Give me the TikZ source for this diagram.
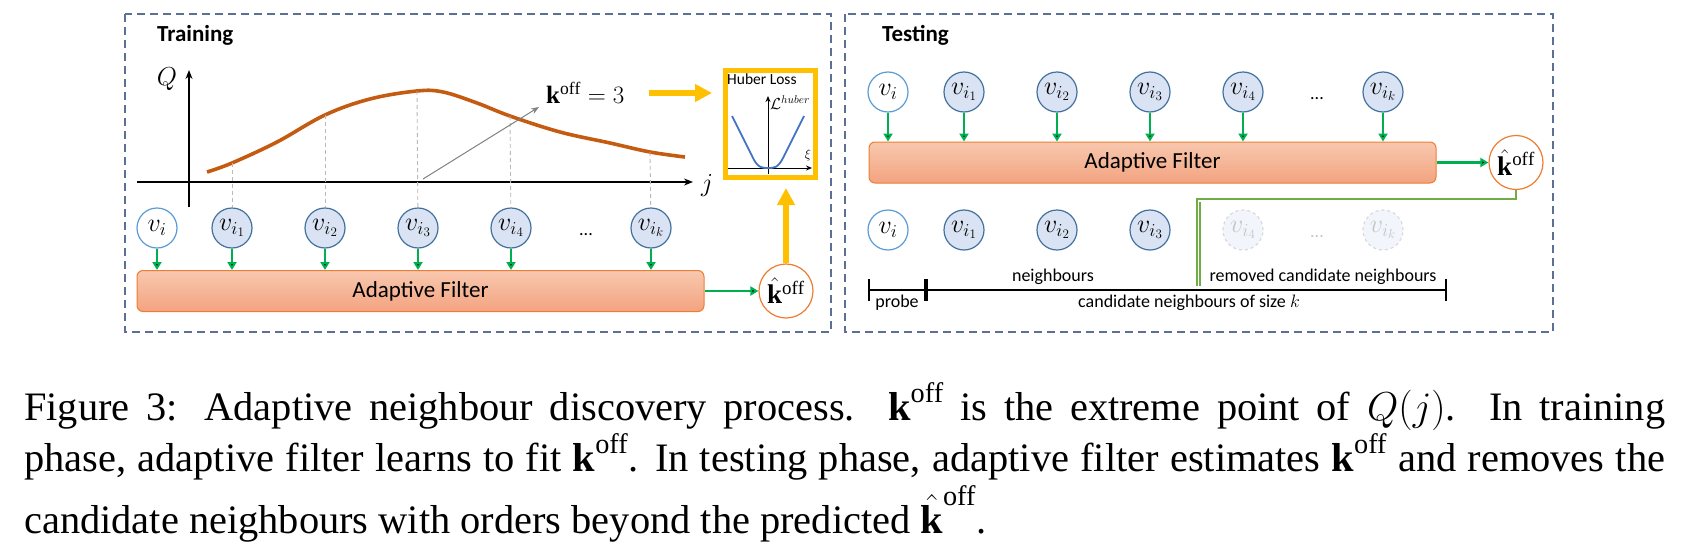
\RequirePackage{fix-cm}
\documentclass[tikz,border=0pt]{standalone}
\usepackage{amsmath}
\usepackage{fontspec}
\setmainfont{Liberation Serif}
\newfontfamily\calib{Carlito}
\usetikzlibrary{arrows.meta,positioning}

\definecolor{boxblue}{RGB}{92,112,150}
\definecolor{nodeblue}{RGB}{65,113,156}
\definecolor{probeblue}{RGB}{91,155,213}
\definecolor{nodefill}{RGB}{218,227,243}
\definecolor{filterline}{RGB}{237,125,49}
\definecolor{filtertop}{RGB}{248,200,175}
\definecolor{filterbot}{RGB}{243,163,128}
\definecolor{feedgreen}{RGB}{0,176,80}
\definecolor{linkgreen}{RGB}{112,173,71}
\definecolor{curveorange}{RGB}{197,90,17}
\definecolor{gold}{RGB}{255,192,0}
\definecolor{hubblue}{RGB}{68,114,196}

\tikzset{
  phase/.style={draw=boxblue, line width=1.4pt, dash pattern=on 8pt off 5pt},
  phasetitle/.style={anchor=west, inner sep=0pt, font=\calib\bfseries\fontsize{23}{23}\selectfont},
  cand/.style={circle, draw=nodeblue, fill=nodefill, line width=1.2pt, minimum size=40pt, inner sep=0pt, font=\fontsize{26}{26}\selectfont},
  probe/.style={cand, draw=probeblue, fill=white},
  removed/.style={cand, draw=gray!30, dashed, fill=nodefill!35, text=gray!45},
  ellip/.style={inner sep=0pt, font=\calib\fontsize{18}{18}\selectfont},
  filterbox/.style={draw=filterline, line width=1pt, rounded corners=6pt, top color=filtertop, bottom color=filterbot, minimum width=567pt, minimum height=41pt, font=\calib\fontsize{23}{23}\selectfont},
  koff/.style={circle, draw=filterline, fill=white, line width=1.2pt, minimum size=54pt, inner sep=0pt, font=\fontsize{27}{27}\selectfont},
  feed/.style={draw=feedgreen, line width=2.6pt, -{Triangle[length=8pt,width=9pt]}},
  big/.style={draw=gold, line width=6pt, -{Triangle[length=17pt,width=17pt]}},
  link/.style={draw=linkgreen, line width=1.4pt},
  guide/.style={draw=gray!55, line width=0.9pt, dash pattern=on 4pt off 3pt},
  qaxis/.style={line width=1.3pt, -{Stealth[length=9pt,width=7pt]}},
  qcurve/.style={draw=curveorange, line width=3.6pt},
  mathlbl/.style={inner sep=0pt, font=\fontsize{26}{26}\selectfont},
  brlabel/.style={inner sep=0pt, font=\calib\fontsize{18}{18}\selectfont},
  sizebar/.style={line width=1.6pt, {Bar[width=22pt]}-{Bar[width=22pt]}},
  captionline/.style={anchor=base west, inner sep=0pt, font=\fontsize{40.4}{51}\selectfont},
}

\begin{document}
\begin{tikzpicture}[x=1pt, y=-1pt, node distance=93pt]
  \useasboundingbox (0,0) rectangle (1697,546);

  % training phase
  \draw[phase] (125,14) rectangle (831,332);
  \node[phasetitle] (train) at (157,35) {Training};

  \draw[qaxis] (189,207) -- (189,70);
  \draw[qaxis] (137,182) -- (693,182);
  \node[mathlbl] (q) at (167,79) {$Q$};
  \node[mathlbl] (j) at (707,186) {$j$};

  \coordinate (c1) at (232,163);
  \coordinate (c2) at (325,115);
  \coordinate (c3) at (417,91);
  \coordinate (c4) at (510,116);
  \coordinate (ck) at (650,152);
  \draw[qcurve] plot[smooth, tension=0.6] coordinates {(207,172) (c1) (277,142) (c2) (370,99) (c3) (443,92) (477,103) (c4) (560,132) (610,143) (ck) (685,157)};

  \node[probe] (vi) at (157,228) {$v_i$};
  \node[cand, right of=vi, node distance=75pt] (vi1) {$v_{i_1}$};
  \node[cand, right of=vi1] (vi2) {$v_{i_2}$};
  \node[cand, right of=vi2] (vi3) {$v_{i_3}$};
  \node[cand, right of=vi3] (vi4) {$v_{i_4}$};
  \node[ellip, right of=vi4, node distance=75pt, yshift=-7pt] (vdots) {...};
  \node[cand, right of=vi4, node distance=140pt] (vik) {$v_{i_k}$};

  \draw[guide] (c1) -- (vi1);
  \draw[guide] (c2) -- (vi2);
  \draw[guide] (c3) -- (vi3);
  \draw[guide] (c4) -- (vi4);
  \draw[guide] (ck) -- (vik);

  \node[mathlbl, anchor=west, font=\fontsize{25}{25}\selectfont] (kl) at (546,93) {$\mathbf{k}^{\mathrm{off}} = 3$};
  \coordinate (ptr) at (423,179);
  \coordinate (ptrend) at (539,107);
  \draw[gray, line width=1pt, -{Stealth[length=8pt,width=6pt]}] (ptr) -- (ptrend);

  % huber loss box
  \node[draw=gold, line width=5pt, minimum width=90pt, minimum height=107pt, inner sep=0pt] (hub) at (770.5,124) {};
  \node[anchor=north west, inner sep=0pt, font=\calib\fontsize{15.5}{15.5}\selectfont] (hubt) at (727,74) {Huber Loss};
  \draw[line width=1pt, -{Stealth[length=6pt,width=5pt]}] (768,174) -- (768,96);
  \draw[line width=1pt, -{Stealth[length=6pt,width=5pt]}] (728,168) -- (812,168);
  \node[anchor=west, inner sep=0pt, font=\fontsize{16}{16}\selectfont] (lh) at (770,103) {$\mathcal{L}^{huber}$};
  \node[inner sep=0pt, font=\fontsize{13}{13}\selectfont] (xi) at (808,155) {$\xi$};
  \draw[hubblue, line width=1.8pt] (732,116) -- (753,158) .. controls (758,168) and (762,168) .. (768,168)
    .. controls (774,168) and (778,168) .. (783,158) -- (804,116);

  \draw[big, shorten <=24pt, shorten >=11pt] (kl.east) -- (kl.east -| hub.west);

  \node[filterbox] (fa) at (420.5,291) {Adaptive Filter};
  \node[koff] (khat1) at (786,291) {$\hat{\mathbf{k}}^{\mathrm{off}}$};

  \path[feed]
    (vi) edge (vi |- fa.north)
    (vi1) edge (vi1 |- fa.north)
    (vi2) edge (vi2 |- fa.north)
    (vi3) edge (vi3 |- fa.north)
    (vi4) edge (vi4 |- fa.north)
    (vik) edge (vik |- fa.north)
    (fa) edge (khat1)
    ;
  \draw[big, shorten >=8pt] (khat1) -- (khat1 |- hub.south);

  % testing phase
  \draw[phase] (845,14) rectangle (1553,332);
  \node[phasetitle] (test) at (882,35) {Testing};

  \node[probe] (ui) at (888,92) {$v_i$};
  \node[cand, right of=ui, node distance=76pt] (ui1) {$v_{i_1}$};
  \node[cand, right of=ui1] (ui2) {$v_{i_2}$};
  \node[cand, right of=ui2] (ui3) {$v_{i_3}$};
  \node[cand, right of=ui3] (ui4) {$v_{i_4}$};
  \node[ellip, right of=ui4, node distance=74pt, yshift=-7pt] (udots) {...};
  \node[cand, right of=ui4, node distance=140pt] (uik) {$v_{i_k}$};

  \node[filterbox] (fb) at (1152.5,162.5) {Adaptive Filter};
  \node[koff] (khat2) at (1516,162.5) {$\hat{\mathbf{k}}^{\mathrm{off}}$};

  \path[feed]
    (ui) edge (ui |- fb.north)
    (ui1) edge (ui1 |- fb.north)
    (ui2) edge (ui2 |- fb.north)
    (ui3) edge (ui3 |- fb.north)
    (ui4) edge (ui4 |- fb.north)
    (uik) edge (uik |- fb.north)
    (fb) edge (khat2)
    ;

  \node[probe] (wi) at (888,230) {$v_i$};
  \node[cand, right of=wi, node distance=76pt] (wi1) {$v_{i_1}$};
  \node[cand, right of=wi1] (wi2) {$v_{i_2}$};
  \node[cand, right of=wi2] (wi3) {$v_{i_3}$};
  \node[removed, right of=wi3] (wi4) {$v_{i_4}$};
  \node[ellip, text=gray!45, right of=wi4, node distance=74pt, yshift=-7pt] (wdots) {...};
  \node[removed, right of=wi4, node distance=140pt] (wik) {$v_{i_k}$};

  % cut line
  \coordinate (cut) at (1197,199);
  \coordinate (cutend) at (1197,286);
  \draw[link] (khat2.south) |- (cut) -- (cutend);
  \draw[link] ([xshift=3pt, yshift=-3pt]cut) -- ([xshift=3pt]cutend);

  % brackets
  \coordinate (b0) at (868,290);
  \coordinate (b1) at (926,290);
  \coordinate (b2) at (1447,290);
  \draw[sizebar] (b0) -- (b1);
  \draw[sizebar] (b1) -- (b2);
  \node[brlabel] (lprobe) at (897,303) {probe};
  \node[brlabel] (lnb) at (1053,277) {neighbours};
  \node[brlabel] (lrm) at (1323,277) {removed candidate neighbours};
  \node[brlabel] (lcand) at (1189,303) {candidate neighbours of size $k$};

  % caption
  \node[captionline] (cap1) at (24,420) {\makebox[1641pt][s]{Figure 3: Adaptive neighbour discovery process. $\textbf{k}^{\textrm{off}}$ is the extreme point of $Q(j)$. In training}};
  \node[captionline] (cap2) at (24,471) {\makebox[1641pt][s]{phase, adaptive filter learns to fit $\textbf{k}^{\textrm{off}}$. In testing phase, adaptive filter estimates $\textbf{k}^{\textrm{off}}$ and removes the}};
  \node[captionline] (cap3) at (24,533) {candidate neighbours with orders beyond the predicted $\hat{\textbf{k}}^{\textrm{off}}$.};
\end{tikzpicture}
\end{document}
